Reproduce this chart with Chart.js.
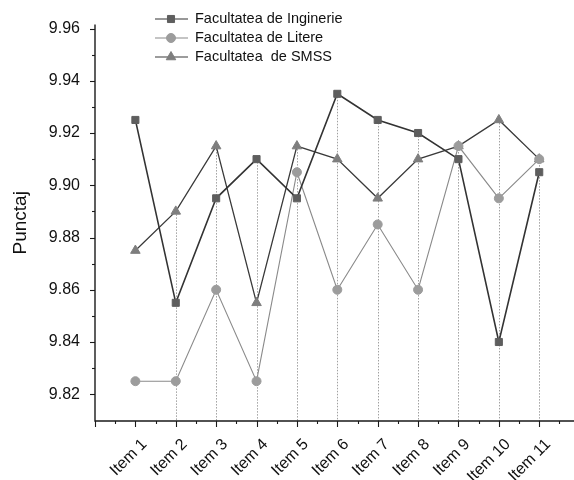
<!DOCTYPE html>
<html>
<head>
<meta charset="utf-8">
<script src="https://cdn.jsdelivr.net/npm/chart.js@4.4.1/dist/chart.umd.min.js"></script>
<style>
html,body{margin:0;padding:0;background:#fff;}
#wrap{position:relative;width:574px;height:480px;}
</style>
</head>
<body>
<div id="wrap"><canvas id="c" width="574" height="480"></canvas></div>
<script>
const categories = ["Item 1","Item 2","Item 3","Item 4","Item 5","Item 6","Item 7","Item 8","Item 9","Item 10","Item 11"];
const seriesNames = ["Facultatea de Inginerie","Facultatea de Litere","Facultatea  de SMSS"];
const inginerie = [9.925, 9.855, 9.895, 9.910, 9.895, 9.935, 9.925, 9.920, 9.910, 9.840, 9.905];
const litere    = [9.825, 9.825, 9.860, 9.825, 9.905, 9.860, 9.885, 9.860, 9.915, 9.895, 9.910];
const smss      = [9.875, 9.890, 9.915, 9.855, 9.915, 9.910, 9.895, 9.910, 9.915, 9.925, 9.910];
const yTicks = [9.82, 9.84, 9.86, 9.88, 9.90, 9.92, 9.94, 9.96];
const yTickLabels = ["9.82","9.84","9.86","9.88","9.90","9.92","9.94","9.96"];

const toPts = arr => arr.map((v,i)=>({x:i+1,y:v}));
const styles = [
  {line:'#333333', fill:'#5e5e5e', point:'rect', r:5, w:1.6},
  {line:'#8a8a8a', fill:'#9c9c9c', point:'circle', r:4.5, w:1.1},
  {line:'#3a3a3a', fill:'#7e7e7e', point:'triangle', r:5.5, w:1.3}
];
const allSeries = [inginerie, litere, smss];

const datasets = allSeries.map((s,k)=>({
  label: seriesNames[k],
  data: toPts(s),
  borderColor: styles[k].line,
  backgroundColor: styles[k].fill,
  pointBackgroundColor: styles[k].fill,
  pointBorderColor: styles[k].fill,
  pointStyle: styles[k].point,
  pointRadius: styles[k].r,
  pointBorderWidth: 1,
  borderWidth: styles[k].w,
  tension: 0
}));

const fontFam = "'Liberation Sans', Arial, sans-serif";

const extras = {
  id:'extras',
  afterLayout(chart){
    const xs = chart.scales.x;
    if(!xs._shifted){
      const orig = xs.drawLabels.bind(xs);
      xs.drawLabels = function(area){
        const ctx = chart.ctx;
        ctx.save(); ctx.translate(9, 0); orig(area); ctx.restore();
      };
      xs._shifted = true;
    }
  },
  beforeDatasetsDraw(chart){
    const ctx = chart.ctx, xs = chart.scales.x, ys = chart.scales.y;
    ctx.save();
    ctx.strokeStyle = '#a0a0a0';
    ctx.lineWidth = 1;
    ctx.setLineDash([1.5,1.5]);
    for(let i=1;i<categories.length;i++){
      const top = Math.max(inginerie[i], litere[i], smss[i]);
      const px = Math.round(xs.getPixelForValue(i+1))+0.5;
      ctx.beginPath();
      ctx.moveTo(px, ys.getPixelForValue(top));
      ctx.lineTo(px, ys.bottom);
      ctx.stroke();
    }
    ctx.restore();
  },
  afterDraw(chart){
    const ctx = chart.ctx, xs = chart.scales.x, ys = chart.scales.y;
    const ca = chart.chartArea;
    ctx.save();
    ctx.strokeStyle = '#1a1a1a';
    ctx.lineWidth = 1.4;
    ctx.beginPath();
    ctx.moveTo(ca.left, ca.top); ctx.lineTo(ca.left, ca.bottom); ctx.lineTo(chart.width, ca.bottom);
    ctx.stroke();
    ctx.lineWidth = 1.1;
    for(let v=9.82; v<=9.9601; v+=0.01){
      const py = Math.round(ys.getPixelForValue(v))+0.5;
      const major = Math.abs(Math.round(v*100) % 2) === 0;
      ctx.beginPath();
      ctx.moveTo(ca.left, py); ctx.lineTo(ca.left - (major?5:3), py);
      ctx.stroke();
    }
    for(let v=0; v<=11.51; v+=0.5){
      const px = Math.round(xs.getPixelForValue(v))+0.5;
      const major = Math.abs(v - Math.round(v)) < 0.01;
      ctx.beginPath();
      ctx.moveTo(px, ca.bottom); ctx.lineTo(px, ca.bottom + (major?6:3));
      ctx.stroke();
    }
    // legend
    const lx = 155, lx2 = 188, tx = 195;
    const rows = [19, 38, 57];
    ctx.font = "14.5px " + fontFam;
    ctx.textBaseline = 'middle';
    ctx.textAlign = 'left';
    rows.forEach((ry,k)=>{
      ctx.strokeStyle = styles[k].line;
      ctx.lineWidth = 1.2;
      ctx.beginPath(); ctx.moveTo(lx, ry); ctx.lineTo(lx2, ry); ctx.stroke();
      ctx.fillStyle = styles[k].fill;
      ctx.strokeStyle = styles[k].fill;
      ctx.lineWidth = 1;
      Chart.helpers.drawPoint(ctx, {pointStyle: styles[k].point, radius: styles[k].r, borderWidth:1}, 171, ry);
      ctx.fillStyle = '#111';
      ctx.fillText(seriesNames[k], tx, ry);
    });
    ctx.restore();
  }
};

new Chart(document.getElementById('c'), {
  type:'line',
  data:{datasets},
  plugins:[extras],
  options:{
    responsive:false,
    animation:false,
    layout:{padding:{top:21,right:0,left:0,bottom:0}},
    plugins:{legend:{display:false}, tooltip:{enabled:false}},
    scales:{
      x:{
        type:'linear', min:0, max:11.70,
        afterBuildTicks(ax){ ax.ticks = categories.map((c,i)=>({value:i+1})); },
        afterFit(ax){ ax.height = 59; },
        grid:{display:false, drawTicks:false},
        border:{display:false},
        ticks:{
          color:'#111', font:{family:fontFam, size:16},
          minRotation:45, maxRotation:45, padding:14,
          callback:(v)=>categories[Math.round(v)-1] || ''
        }
      },
      y:{
        min:9.80976, max:9.9615,
        afterBuildTicks(ax){ ax.ticks = yTicks.map(v=>({value:v})); },
        afterFit(ax){ ax.width = 95; },
        grid:{display:false, drawTicks:false},
        border:{display:false},
        ticks:{
          color:'#111', font:{family:fontFam, size:16}, padding:15,
          callback:(v)=>{ const i = yTicks.findIndex(t=>Math.abs(t-v)<1e-6); return i>=0 ? yTickLabels[i] : ''; }
        },
        title:{display:true, text:'Punctaj', color:'#111', font:{family:fontFam, size:19}, padding:{top:9,bottom:0}}
      }
    }
  }
});
</script>
</body>
</html>
